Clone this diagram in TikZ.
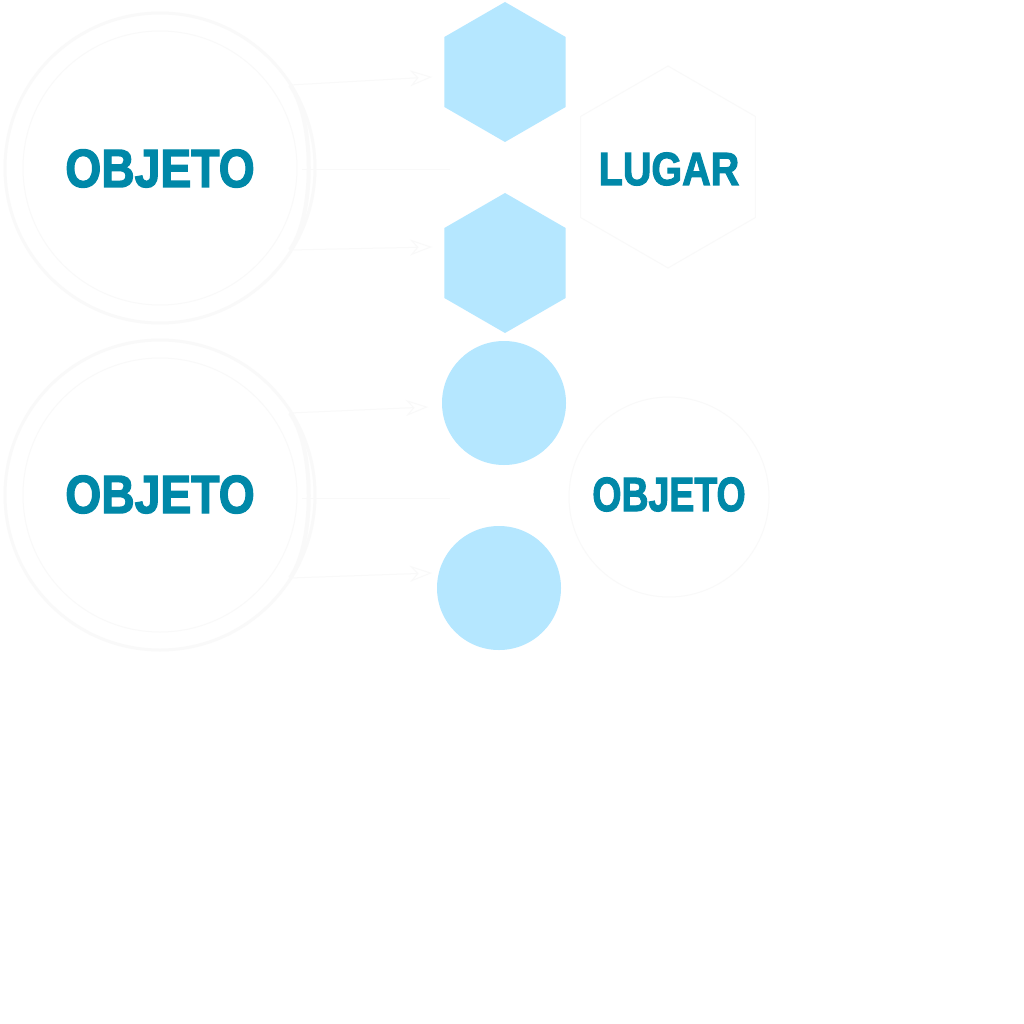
\documentclass[tikz,border=0pt]{standalone}
\usepackage{fontspec}
\usetikzlibrary{shapes.geometric,arrows.meta}
\newfontfamily\heavyfont{Liberation Sans}[BoldFeatures={FakeBold=2.5}]
\definecolor{lightblue}{HTML}{B5E7FF}
\definecolor{teal}{HTML}{0088A8}
\definecolor{faint}{HTML}{F9F9F9}
\tikzset{
  hexfill/.style={regular polygon, regular polygon sides=6, shape border rotate=30, fill=lightblue, draw=none, inner sep=0pt, minimum size=140pt},
  circfill/.style={circle, fill=lightblue, draw=none, inner sep=0pt, minimum size=124pt},
  faintcirc/.style={circle, draw=faint, line width=1pt, inner sep=0pt},
  fainthex/.style={regular polygon, regular polygon sides=6, shape border rotate=30, draw=faint, line width=1pt, inner sep=0pt, minimum size=202pt},
  faintline/.style={draw=faint, line width=1pt},
  faintarrow/.style={draw=faint, line width=1pt, -{Stealth[open,length=22pt,width=16pt]}},
  label/.style={text=teal, inner sep=0pt, anchor=base, font=\heavyfont\bfseries}
}
\begin{document}
\begin{tikzpicture}[x=1pt,y=-1pt]
\useasboundingbox (0,0) rectangle (1024,1024);
\fill[white] (0,0) rectangle (1024,1024);

% faint left circles
\node[faintcirc, minimum size=310pt, line width=3pt] (c1o) at (160,168) {};
\node[faintcirc, minimum size=274pt] (c1i) at (160,168) {};
\node[faintcirc, minimum size=310pt, line width=3pt] (c2o) at (160,495) {};
\node[faintcirc, minimum size=274pt] (c2i) at (160,495) {};

% faint hexagon / circle on right
\node[fainthex] (fh) at (668,167) {};
\node[faintcirc, minimum size=200pt] (fc) at (669,497) {};

% middle shapes
\node[hexfill] (h1) at (505,72) {};
\node[hexfill] (h2) at (505,263) {};
\node[circfill] (k1) at (504,403) {};
\node[circfill] (k2) at (499,588) {};

% faint connectors (upper)
\coordinate (ua) at (290,85);
\coordinate (ub) at (290,250);
\coordinate (um) at (302,170);
\coordinate (uat) at (432,77);
\coordinate (ubt) at (432,247);
\coordinate (umt) at (450,170);
\draw[faintline, line width=4pt] (ua) .. controls (315,120) and (315,215) .. (ub);
\draw[faintline] (um) -- (umt);
\draw[faintarrow] (ua) -- (uat);
\draw[faintarrow] (ub) -- (ubt);

% faint connectors (lower)
\coordinate (la) at (290,413);
\coordinate (lb) at (290,578);
\coordinate (lm) at (302,498);
\coordinate (lat) at (428,407);
\coordinate (lbt) at (432,573);
\coordinate (lmt) at (450,498);
\draw[faintline, line width=4pt] (la) .. controls (315,448) and (315,543) .. (lb);
\draw[faintline] (lm) -- (lmt);
\draw[faintarrow] (la) -- (lat);
\draw[faintarrow] (lb) -- (lbt);

% labels
\node[label, font=\heavyfont\bfseries\fontsize{53.8}{60}\selectfont] (t1) at (160,187) {\scalebox{0.86}[1]{OBJETO}};
\node[label, font=\heavyfont\bfseries\fontsize{53.8}{60}\selectfont] (t2) at (160,513) {\scalebox{0.86}[1]{OBJETO}};
\node[label, font=\heavyfont\bfseries\fontsize{46.5}{52}\selectfont] (t3) at (669,185) {\scalebox{0.85}[1]{LUGAR}};
\node[label, font=\heavyfont\bfseries\fontsize{48}{54}\selectfont] (t4) at (669,511) {\scalebox{0.78}[1]{OBJETO}};
\end{tikzpicture}
\end{document}
